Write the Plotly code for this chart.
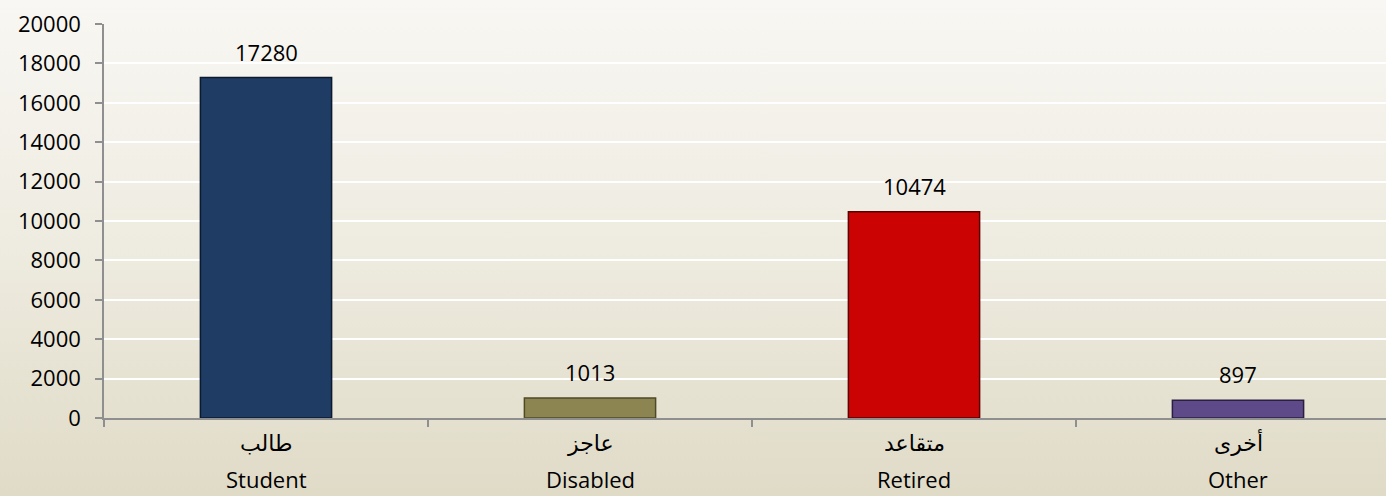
import base64
import plotly.graph_objects as go

# ---- data ----
categories_ar = ["طالب", "عاجز", "متقاعد", "أخرى"]
categories_en = ["Student", "Disabled", "Retired", "Other"]
values = [17280, 1013, 10474, 897]
bar_colors = ["#1f3c64", "#8c8552", "#cc0303", "#5e4a88"]
edge_colors = ["#0d1a2e", "#4f4a26", "#5a0000", "#2a1f42"]
y_ticks = [0, 2000, 4000, 6000, 8000, 10000, 12000, 14000, 16000, 18000, 20000]

W, H = 1386, 496
FONT = "Open Sans, DejaVu Sans, sans-serif"
FS = 22

x = list(range(len(values)))
edges = [i - 0.5 for i in x]

fig = go.Figure()
fig.add_trace(go.Bar(
    x=x, y=values, width=0.405,
    marker=dict(color=bar_colors, line=dict(color=edge_colors, width=1.5)),
    hoverinfo="skip",
))

for xi, v in zip(x, values):
    fig.add_annotation(x=xi, y=v, text=str(v), showarrow=False,
                       yanchor="middle", yshift=26,
                       font=dict(family=FONT, size=FS, color="#000000"))

for xi, ar, en in zip(x, categories_ar, categories_en):
    fig.add_annotation(x=xi, y=0, text=ar, showarrow=False,
                       yanchor="middle", yshift=-24,
                       font=dict(family=FONT, size=FS, color="#000000"))
    fig.add_annotation(x=xi, y=0, text=en, showarrow=False,
                       yanchor="middle", yshift=-61,
                       font=dict(family=FONT, size=FS, color="#000000"))

svg = (
    f'<svg xmlns="http://www.w3.org/2000/svg" width="{W}" height="{H}" viewBox="0 0 {W} {H}" preserveAspectRatio="none">'
    '<defs><linearGradient id="g" x1="0" y1="0" x2="0" y2="1">'
    '<stop offset="0" stop-color="#f8f7f3"/>'
    '<stop offset="0.5" stop-color="#eeebe0"/>'
    '<stop offset="1" stop-color="#e0dbc7"/>'
    '</linearGradient></defs>'
    f'<rect x="0" y="0" width="{W}" height="{H}" fill="url(#g)"/></svg>'
)
src = "data:image/svg+xml;base64," + base64.b64encode(svg.encode()).decode()

left, top, bottom = 104, 24, 78
x_span = (W - left) / 324.0

fig.update_layout(
    width=W, height=H,
    margin=dict(l=0, r=0, t=0, b=0, autoexpand=False),
    paper_bgcolor="#ece9de",
    plot_bgcolor="rgba(0,0,0,0)",
    showlegend=False,
    images=[dict(source=src, xref="paper", yref="paper", x=0, y=1,
                 sizex=1, sizey=1, sizing="stretch", layer="below",
                 xanchor="left", yanchor="top")],
    xaxis=dict(
        domain=[left / W, 1],
        range=[-0.5, -0.5 + x_span],
        automargin=False,
        tickmode="array", tickvals=x, ticktext=[""] * len(x),
        ticks="", showgrid=False, zeroline=False,
        showline=True, linecolor="#8f8f8f", linewidth=1.5,
        minor=dict(tickmode="array", tickvals=edges, ticks="outside",
                   ticklen=7, tickcolor="#8f8f8f", tickwidth=1.5, showgrid=False),
    ),
    yaxis=dict(
        domain=[bottom / H, 1 - top / H],
        range=[0, 20000],
        automargin=False,
        tickmode="array", tickvals=y_ticks, ticktext=[str(v) for v in y_ticks],
        ticks="outside", ticklen=7, tickcolor="#8f8f8f", tickwidth=1.5,
        ticklabelstandoff=10,
        showline=True, linecolor="#8f8f8f", linewidth=1.5,
        showgrid=True, gridcolor="#ffffff", gridwidth=1.5,
        zeroline=False,
        tickfont=dict(family=FONT, size=FS, color="#000000"),
    ),
)

fig.write_html("out.html", config={"displayModeBar": False},
               post_script="document.body.style.margin='0';document.body.style.overflow='hidden';")
